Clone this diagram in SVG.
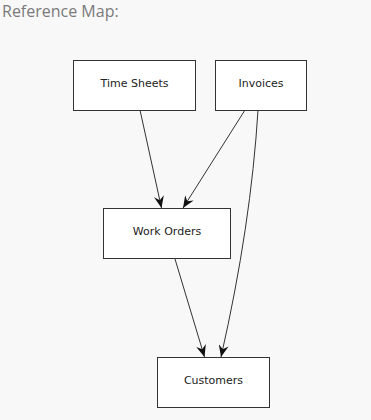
<svg xmlns="http://www.w3.org/2000/svg" width="371" height="420" viewBox="0 0 371 420">
<style>
.bg{fill:#f8f8f8}
.title{font-family:"Open Sans",sans-serif;font-size:16px;fill:#7a7a7a}
.node rect{fill:#ffffff;stroke:#333333;stroke-width:1}
.node text{font-family:"DejaVu Sans",sans-serif;font-size:11px;fill:#222222;text-anchor:middle}
.edge{fill:none;stroke:#333333;stroke-width:1}
</style>
<defs>
<marker id="arr" viewBox="0 0 12 10" refX="12" refY="5" markerWidth="12" markerHeight="10" markerUnits="userSpaceOnUse" orient="auto">
<path d="M0,0 L12,5 L0,10 L4,5 z" fill="#111111"/>
</marker>
</defs>
<rect class="bg" x="0" y="0" width="371" height="420"/>
<text class="title" x="2" y="17">Reference Map:</text>
<g id="connectors">
<path class="edge" d="M140,110 L161.5,208" marker-end="url(#arr)"/>
<path class="edge" d="M245,110 L183,208" marker-end="url(#arr)"/>
<path class="edge" d="M258,110 Q251,225 221,357" marker-end="url(#arr)"/>
<path class="edge" d="M175,259 L204.5,357" marker-end="url(#arr)"/>
</g>
<g id="time-sheets" class="node"><rect x="73.5" y="60.5" width="122" height="50"/><text x="134.5" y="87">Time Sheets</text></g>
<g id="invoices" class="node"><rect x="215.5" y="60.5" width="91" height="50"/><text x="261" y="87">Invoices</text></g>
<g id="work-orders" class="node"><rect x="103.5" y="208.5" width="127" height="50"/><text x="167" y="235">Work Orders</text></g>
<g id="customers" class="node"><rect x="157.5" y="357.5" width="112" height="50"/><text x="213.5" y="384">Customers</text></g>
</svg>
